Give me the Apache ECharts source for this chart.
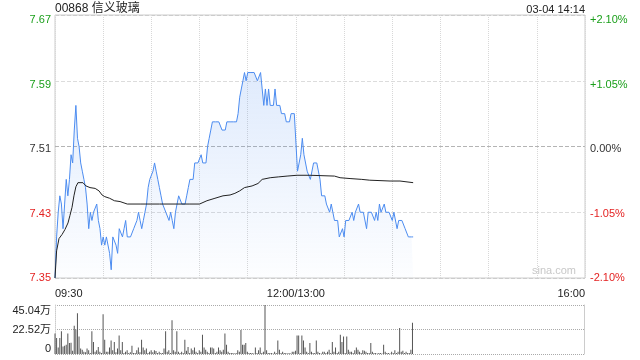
<!DOCTYPE html>
<html><head><meta charset="utf-8">
<script src="https://cdn.jsdelivr.net/npm/echarts/dist/echarts.min.js"></script>
<style>html,body{margin:0;padding:0;background:#fff}#c{width:640px;height:360px}</style>
</head><body><div id="c"></div>
<script>
const titleText = '00868 信义玻璃';
const stampText = '03-04 14:14';
const watermark = 'sina.com';
const prevClose = 7.51;
const priceTicks = [7.35, 7.43, 7.51, 7.59, 7.67];
const pctLabels = ['-2.10%', '-1.05%', '0.00%', '+1.05%', '+2.10%'];
const timeLabels = {0: '09:30', 150: '12:00/13:00', 330: '16:00'};
const volMax = 45.04; // 万
const price = [
7.35,7.40,7.43,7.45,7.44,7.41,7.44,7.47,7.45,7.47,
7.50,7.49,7.53,7.56,7.52,7.51,7.49,7.48,7.47,7.46,
7.44,7.41,7.43,7.42,7.43,7.43,7.44,7.42,7.41,7.39,
7.40,7.39,7.40,7.40,7.38,7.36,7.40,7.40,7.39,7.38,
7.41,7.41,7.40,7.41,7.42,7.40,7.40,7.40,7.40,7.41,
7.41,7.42,7.43,7.42,7.41,7.42,7.43,7.44,7.46,7.47,
7.47,7.48,7.49,7.48,7.47,7.46,7.45,7.44,7.44,7.43,
7.43,7.42,7.43,7.42,7.41,7.43,7.44,7.45,7.45,7.44,
7.44,7.44,7.45,7.46,7.47,7.47,7.47,7.49,7.49,7.49,
7.49,7.50,7.49,7.49,7.49,7.51,7.52,7.53,7.54,7.54,
7.54,7.54,7.54,7.54,7.53,7.53,7.53,7.54,7.54,7.54,
7.54,7.54,7.54,7.54,7.55,7.57,7.58,7.59,7.60,7.59,
7.60,7.60,7.60,7.60,7.60,7.60,7.59,7.59,7.60,7.58,
7.56,7.58,7.56,7.58,7.56,7.56,7.56,7.58,7.56,7.56,
7.56,7.55,7.55,7.55,7.54,7.54,7.54,7.55,7.55,7.55,
7.55,7.48,7.49,7.50,7.52,7.50,7.50,7.48,7.48,7.47,
7.47,7.49,7.49,7.49,7.49,7.47,7.45,7.45,7.45,7.44,
7.44,7.43,7.44,7.43,7.42,7.42,7.42,7.40,7.40,7.41,
7.40,7.42,7.42,7.42,7.42,7.43,7.42,7.43,7.43,7.44,
7.43,7.43,7.43,7.43,7.41,7.43,7.43,7.43,7.43,7.42,
7.43,7.42,7.44,7.43,7.43,7.44,7.43,7.43,7.43,7.43,
7.42,7.43,7.43,7.41,7.42,7.42,7.42,7.42,7.41,7.41,
7.40,7.40,7.40,7.40
];
const avgMinute = [0,1,2.5,4.4,6.2,8.1,9.3,10.6,11.8,13,14.3,17.4,19.3,21.8,25,27.4,29.3,31,34,37,40.5,45,53,65,84,90,94.6,99.6,104.6,109,112,115,118,122.7,126.4,129,134,139,144.5,150.7,158.8,174,177.5,183.7,191,196,208.6,214.8,223];
const avgPrice = [7.35,7.383,7.398,7.403,7.409,7.417,7.426,7.436,7.45,7.461,7.466,7.466,7.462,7.46,7.459,7.456,7.451,7.449,7.447,7.444,7.443,7.44,7.44,7.44,7.44,7.44,7.444,7.447,7.45,7.451,7.453,7.456,7.46,7.462,7.465,7.47,7.472,7.473,7.474,7.475,7.475,7.474,7.472,7.471,7.47,7.469,7.468,7.468,7.466];
const volume = [
18.8,14.7,6,14.7,21,7,7.5,8.4,18.8,10,
10.3,3,26,22.5,37.5,16,5,4,2,1.5,
5,3.5,1,21,11,2,3.5,6.5,2,1,
36.6,13,2,2,6,12.5,3.5,11,1.5,5,
17,3.5,11,1,2,3.5,1,1.5,7.5,1,
1,3.5,6,1.5,13,6,3.5,5,1,2,
3.5,1.5,3.5,2.8,1,2,1,1,5,21,
2,3.5,1,31,3.5,2,21,2,1,2,
1,13,3,6.5,1,5,3.5,6,2,1,
3.5,2,17.8,6,4,2,1,6,6,5,
1,2,6,3.5,2,4,18.8,8.4,2,1,
1,1,0.5,1,3.5,2,22,8.4,8.4,10,
2,1,1,1,0.5,6,1,3.5,6,1,
2,45.04,3.5,1,1,1,0.5,2,1,12.5,
4,1,2,1,1,0.5,1,0.5,2,2,
3,17,17,1,17,12.5,6,2,1,10,
2,1,1,12.5,2,1,0.5,2,2,1,
2,4,1,11,2,6,1,2,17.8,11,
16,1,16,4,2,2,1,3.5,6,4,
2,1,3.5,3,2,1,1,10,2,1,
1,0.5,1,1,0.5,8.4,2,1,1,0.5,
2,1,3.5,1,2,24,2,3,1,2,
1,1,4,28.7
];

const FONT = "'Liberation Sans', 'Noto Sans CJK SC', sans-serif";
const GREEN = '#1a9f1a', RED = '#e42222', DARK = '#333';
const colorFor = v => (Math.abs(v - prevClose) < 0.001 ? DARK : (v > prevClose ? GREEN : RED));
const pmin = priceTicks[0], pmax = priceTicks[priceTicks.length - 1];
const pint = +(priceTicks[1] - priceTicks[0]).toFixed(2);

const hiddenY = (grid, pos) => ({type: 'value', gridIndex: grid, min: pmin, max: pmax, interval: pint, position: pos,
  axisLine: {show: false}, axisTick: {show: false}, splitLine: {show: false}});

const chart = echarts.init(document.getElementById('c'), null, {renderer: 'canvas'});
chart.setOption({
  animation: false,
  textStyle: {fontFamily: FONT},
  title: [
    {text: titleText, left: 55, top: 3, padding: 0, textStyle: {fontSize: 12, fontWeight: 'normal', color: '#222', fontFamily: FONT}},
    {text: stampText, right: 55, top: 4, padding: 0, textStyle: {fontSize: 11, fontWeight: 'normal', color: '#222', fontFamily: FONT}}
  ],
  graphic: [
    {type: 'text', right: 64, top: 265, z: 0, style: {text: watermark, fill: '#c8c8c8', font: '11px ' + FONT}}
  ],
  grid: [
    {left: 55, right: 55, top: 15, height: 263, show: true, borderColor: '#ccc', borderWidth: 1, outerBoundsMode: 'none'},
    {left: 55, right: 56, top: 305, height: 49, show: false, outerBoundsMode: 'none'},
    {left: 55, right: 55, top: 20, height: 258, show: false, outerBoundsMode: 'none'}
  ],
  xAxis: [
    {type: 'value', gridIndex: 0, min: 0, max: 330, interval: 30,
     axisLine: {show: false}, axisTick: {show: false},
     splitLine: {show: true, lineStyle: {color: '#d8d8d8', type: 'dotted', width: 1}},
     axisLabel: {show: true, margin: 10, fontSize: 11, color: '#222', fontFamily: FONT,
       formatter: v => timeLabels[v] || '', alignMinLabel: 'left', alignMaxLabel: 'right',
       showMinLabel: true, showMaxLabel: true, hideOverlap: false}},
    {type: 'value', gridIndex: 1, min: 0, max: 330, interval: 30,
     axisLine: {show: false}, axisTick: {show: false}, splitLine: {show: false}, axisLabel: {show: false}},
    {type: 'value', gridIndex: 2, min: 0, max: 330, show: false}
  ],
  yAxis: [
    Object.assign(hiddenY(0, 'left'), {
     splitLine: {show: true, lineStyle: {color: ['#ccc', '#dcdcdc', '#b4b4b4', '#dcdcdc', '#ccc'], type: 'dashed', width: 1}},
     axisLabel: {show: false}}),
    Object.assign(hiddenY(0, 'right'), {axisLabel: {show: false}}),
    {type: 'value', gridIndex: 1, min: 0, max: volMax, interval: volMax / 2, position: 'left',
     axisLine: {show: true, lineStyle: {color: '#ccc', type: 'dotted'}}, axisTick: {show: false},
     splitLine: {show: true, lineStyle: {color: '#aaa', type: 'dotted', width: 1}},
     axisLabel: {margin: 4, fontSize: 11, fontFamily: FONT, color: '#222',
       verticalAlignMaxLabel: 'top', verticalAlignMinLabel: 'bottom',
       formatter: v => (v === 0 ? '0' : v.toFixed(2) + '万')}},
    {type: 'value', gridIndex: 1, min: 0, max: volMax, interval: volMax / 2, position: 'right',
     axisLine: {show: true, lineStyle: {color: '#ccc'}}, axisTick: {show: false},
     splitLine: {show: false}, axisLabel: {show: false}},
    Object.assign(hiddenY(2, 'left'), {
     axisLabel: {margin: 4, fontSize: 11, fontFamily: FONT,
       formatter: v => v.toFixed(2), color: v => colorFor(v)}}),
    Object.assign(hiddenY(2, 'right'), {
     axisLabel: {margin: 5, fontSize: 11, fontFamily: FONT,
       formatter: v => pctLabels[Math.round((v - pmin) / pint)], color: v => colorFor(v)}})
  ],
  series: [
    {type: 'line', xAxisIndex: 0, yAxisIndex: 0, data: price.map((v, i) => [i, v]),
     symbol: 'none', lineStyle: {color: '#4c8cf0', width: 1},
     areaStyle: {origin: 'start', color: new echarts.graphic.LinearGradient(0, 0, 0, 1, [
       {offset: 0, color: 'rgba(76,140,240,0.25)'}, {offset: 1, color: 'rgba(76,140,240,0.02)'}])}, z: 3},
    {type: 'line', xAxisIndex: 0, yAxisIndex: 0, data: avgMinute.map((m, i) => [m, avgPrice[i]]),
     symbol: 'none', lineStyle: {color: '#222', width: 1}, z: 4},
    {type: 'bar', xAxisIndex: 1, yAxisIndex: 2, data: volume.map((v, i) => [i, v]),
     barWidth: 1, itemStyle: {color: '#555'}}
  ]
});
</script></body></html>
